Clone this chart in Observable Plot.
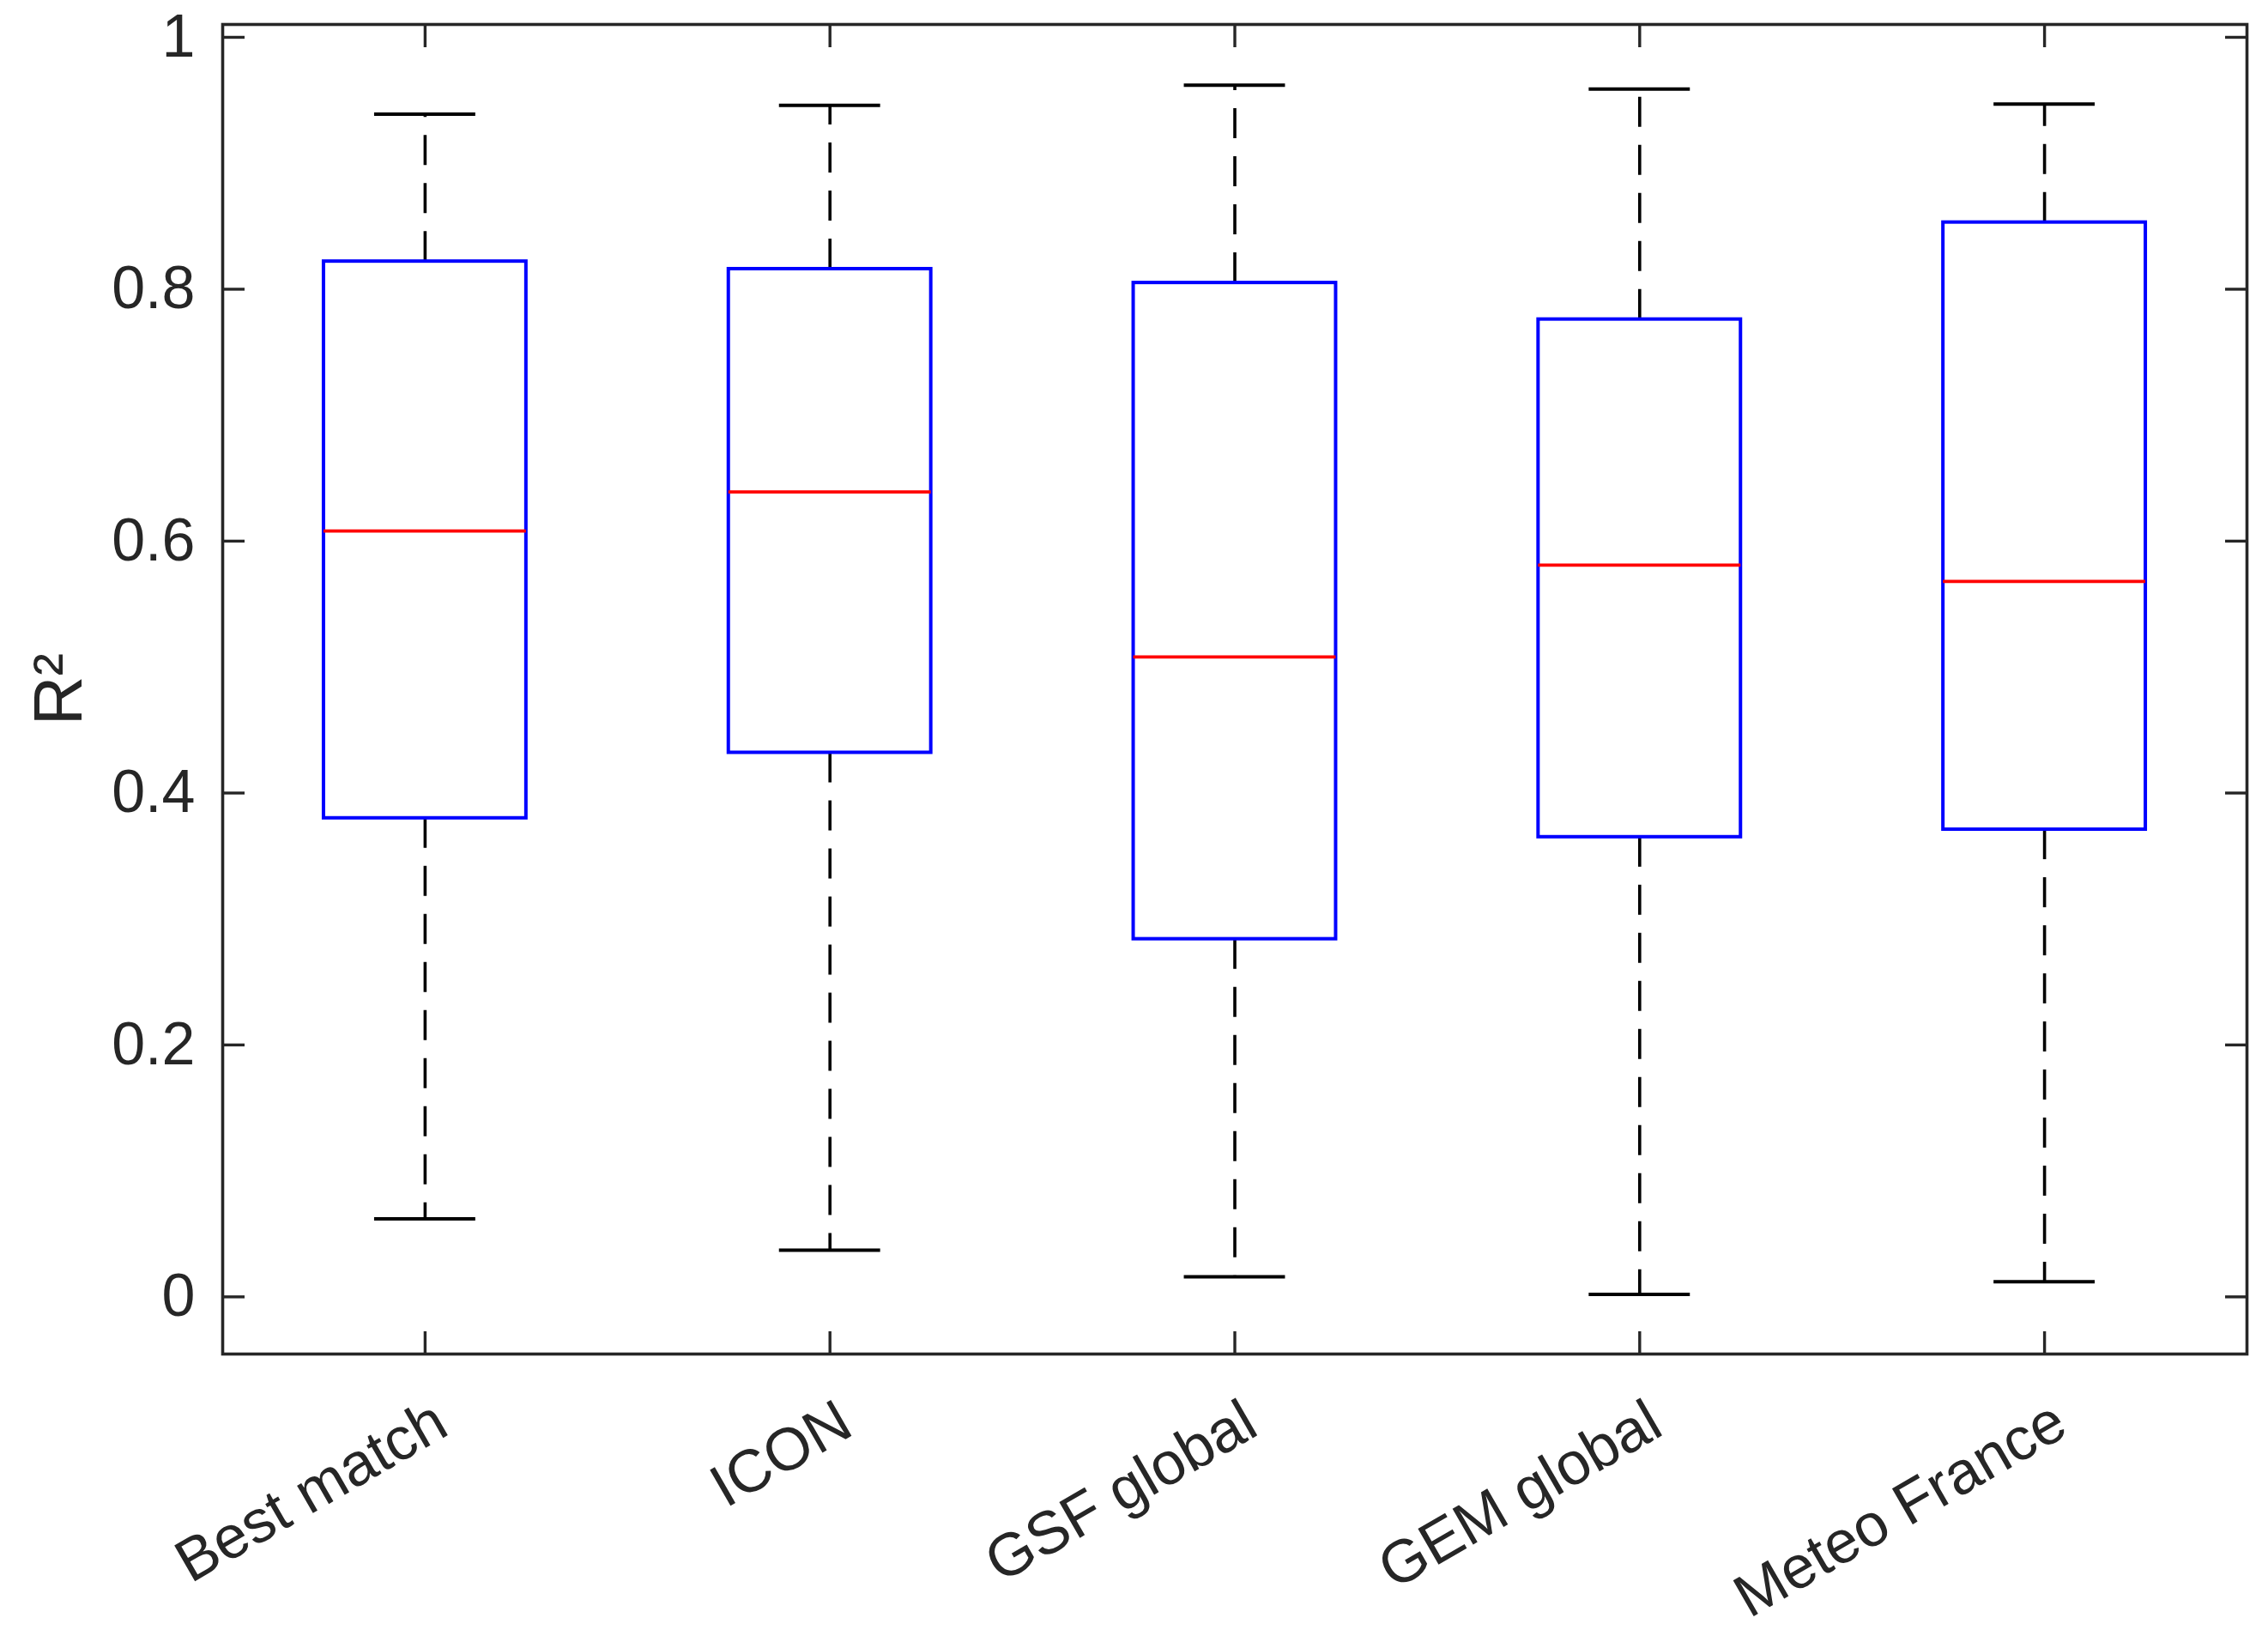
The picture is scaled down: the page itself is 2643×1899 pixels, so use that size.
<!DOCTYPE html>
<html>
<head>
<meta charset="utf-8">
<script src="https://cdn.jsdelivr.net/npm/d3@7"></script>
<script src="https://cdn.jsdelivr.net/npm/@observablehq/plot@0.6"></script>
<style>
  html, body { margin: 0; padding: 0; background: #ffffff; }
</style>
</head>
<body>
<div id="chart"></div>
<script>
// Data
const models = ["Best match", "ICON", "GSF global", "GEM global", "Meteo France"];
const whiskerLow  = [0.062, 0.037, 0.016, 0.002, 0.012];
const q1          = [0.380, 0.432, 0.284, 0.365, 0.371];
const median      = [0.608, 0.639, 0.508, 0.581, 0.568];
const q3          = [0.822, 0.816, 0.805, 0.776, 0.853];
const whiskerHigh = [0.939, 0.946, 0.962, 0.959, 0.947];
const yTicks = [0, 0.2, 0.4, 0.6, 0.8, 1];
const yLabel = "R²";

const data = models.map((m, i) => ({
  model: m, lo: whiskerLow[i], q1: q1[i], median: median[i], q3: q3[i], hi: whiskerHigh[i]
}));

const ink = "#262626";
const chart = Plot.plot({
  width: 2643,
  height: 1899,
  marginLeft: 259,
  marginRight: 25,
  marginTop: 28,
  marginBottom: 322,
  style: { fontFamily: "'Liberation Sans', Arial, Helvetica, sans-serif", color: ink, background: "#ffffff" },
  x: { type: "band", domain: models, paddingInner: 0.5, paddingOuter: 0.25, round: false, axis: null },
  y: { domain: [-0.0454, 1.0102], axis: null },
  marks: [
    // whiskers
    Plot.ruleX(data, { x: "model", y1: "q3", y2: "hi", stroke: "#000000", strokeWidth: 3.6, strokeDasharray: "35,21" }),
    Plot.ruleX(data, { x: "model", y1: "q1", y2: "lo", stroke: "#000000", strokeWidth: 3.6, strokeDasharray: "35,21" }),
    // whisker caps
    Plot.tickY(data, { x: "model", y: "hi", stroke: "#000000", strokeWidth: 4, insetLeft: 59, insetRight: 59 }),
    Plot.tickY(data, { x: "model", y: "lo", stroke: "#000000", strokeWidth: 4, insetLeft: 59, insetRight: 59 }),
    // boxes
    Plot.barY(data, { x: "model", y1: "q1", y2: "q3", fill: "none", stroke: "#0000ff", strokeWidth: 4 }),
    // medians
    Plot.tickY(data, { x: "model", y: "median", stroke: "#ff0000", strokeWidth: 3.8 }),
    // frame
    Plot.frame({ stroke: ink, strokeWidth: 3.6 }),
    // inward ticks (bottom, top, left, right)
    Plot.axisX({ anchor: "bottom", tickSize: -26, tickFormat: () => "", label: null, stroke: ink, strokeWidth: 3.4 }),
    Plot.axisX({ anchor: "top", tickSize: -26, tickFormat: () => "", label: null, stroke: ink, strokeWidth: 3.4 }),
    Plot.axisY(yTicks, { anchor: "left", tickSize: -26, tickFormat: () => "", label: null, stroke: ink, strokeWidth: 3.4 }),
    Plot.axisY(yTicks, { anchor: "right", tickSize: -26, tickFormat: () => "", label: null, stroke: ink, strokeWidth: 3.4 }),
    // y tick labels
    Plot.axisY(yTicks, { anchor: "left", tickSize: 0, tickPadding: 32, tickFormat: d => String(d), label: null, fontSize: 70, fill: ink }),
    // x tick labels (rotated)
    Plot.text(models, { x: d => d, frameAnchor: "bottom", rotate: -30, textAnchor: "end", lineAnchor: "middle", dx: 19, dy: 73, fontSize: 70, fill: ink }),
    // y axis label
    Plot.text([yLabel], { frameAnchor: "left", rotate: -90, textAnchor: "middle", lineAnchor: "middle", dx: -190, fontSize: 80, fill: ink })
  ]
});
document.getElementById("chart").appendChild(chart);
</script>
</body>
</html>
